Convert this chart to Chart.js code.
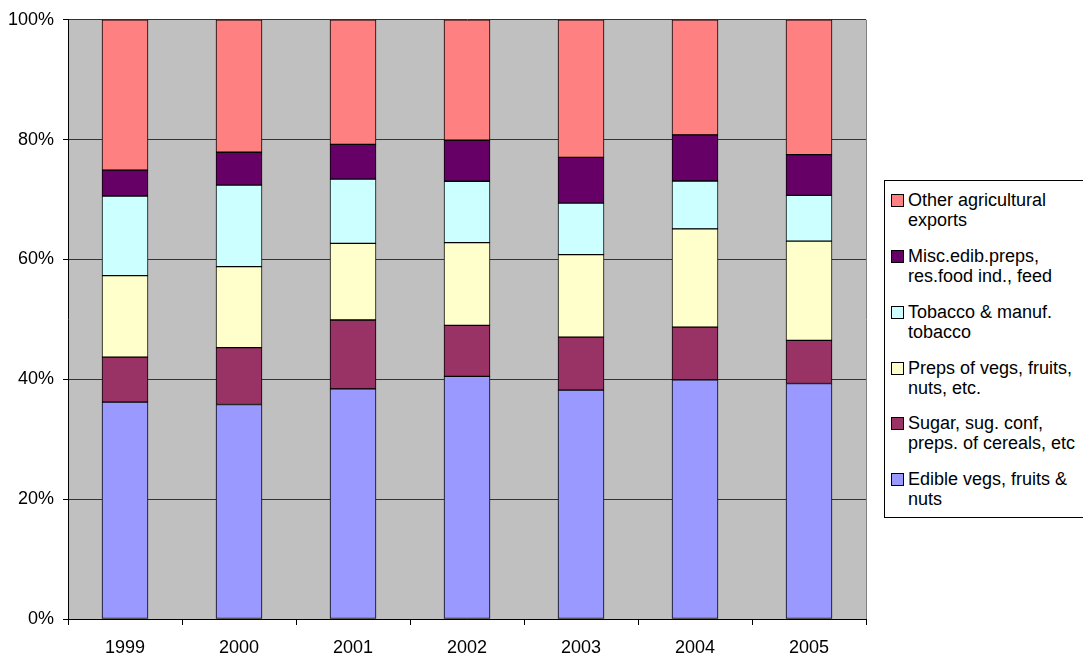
<!DOCTYPE html>
<html>
<head>
<meta charset="utf-8">
<script src="https://cdn.jsdelivr.net/npm/chart.js@4.4.1/dist/chart.umd.min.js"></script>
<style>
  html, body { margin: 0; padding: 0; background: #fff; }
  #wrap { position: relative; width: 1083px; height: 657px; }
  #legend { position: absolute; left: 884px; top: 180px; width: 199px; height: 338px;
    border: 1px solid #000; border-right: none; background: #fff; box-sizing: border-box;
    font-family: "Liberation Sans", Arial, sans-serif; font-size: 18px; color: #000; }
  .item { position: absolute; left: 6px; line-height: 20px; }
  .sw { position: absolute; left: 0; top: 4px; width: 11px; height: 11px; border: 1px solid #000; }
  .txt { margin-left: 17px; white-space: nowrap; }
</style>
</head>
<body>
<div id="wrap">
  <canvas id="c" width="1083" height="657"></canvas>
  <div id="legend"></div>
</div>
<script>
const categories = ["1999", "2000", "2001", "2002", "2003", "2004", "2005"];
const edible  = [36.2, 35.8, 38.4, 40.5, 38.2, 39.9, 39.3];
const sugar   = [7.5, 9.5, 11.5, 8.5, 8.85, 8.8, 7.2];
const preps   = [13.6, 13.5, 12.8, 13.8, 13.75, 16.4, 16.55];
const tobacco = [13.3, 13.6, 10.7, 10.25, 8.6, 8.0, 7.65];
const misc    = [4.3, 5.5, 5.8, 6.85, 7.65, 7.7, 6.8];
const other   = [25.1, 22.1, 20.8, 20.1, 22.95, 19.2, 22.5];
const yTicks  = [0, 20, 40, 60, 80, 100];

const series = [
  { label: ["Edible vegs, fruits &", "nuts"], data: edible, color: "#9999FF" },
  { label: ["Sugar, sug. conf,", "preps. of cereals, etc"], data: sugar, color: "#993366" },
  { label: ["Preps of vegs, fruits,", "nuts, etc."], data: preps, color: "#FFFFCC" },
  { label: ["Tobacco & manuf.", "tobacco"], data: tobacco, color: "#CCFFFF" },
  { label: ["Misc.edib.preps,", "res.food ind., feed"], data: misc, color: "#660066" },
  { label: ["Other agricultural", "exports"], data: other, color: "#FF8080" }
];

const bgPlugin = {
  id: 'bg',
  beforeDraw(chart) {
    const { ctx, chartArea: a } = chart;
    ctx.save();
    ctx.fillStyle = '#C0C0C0';
    ctx.fillRect(a.left, a.top, a.right - a.left, a.bottom - a.top);
    ctx.strokeStyle = '#808080';
    ctx.lineWidth = 1;
    ctx.beginPath();
    ctx.moveTo(a.right + 0.5, a.top);
    ctx.lineTo(a.right + 0.5, a.bottom);
    ctx.stroke();
    ctx.restore();
  }
};

const font = { family: '"Liberation Sans", Arial, sans-serif', size: 18 };

new Chart(document.getElementById('c'), {
  type: 'bar',
  data: {
    labels: categories,
    datasets: series.map(s => ({
      label: s.label.join(' '),
      data: s.data,
      backgroundColor: s.color,
      borderColor: '#000',
      borderWidth: 1,
      borderSkipped: false,
      barThickness: 46
    }))
  },
  options: {
    responsive: false,
    animation: false,
    layout: { autoPadding: false, padding: { top: 19, right: 217, left: 0, bottom: 0 } },
    plugins: { legend: { display: false }, tooltip: { enabled: false } },
    scales: {
      x: {
        stacked: true,
        offset: true,
        grid: { offset: true, drawOnChartArea: false, color: '#000', tickLength: 6, tickColor: '#000' },
        border: { color: '#000', width: 1 },
        ticks: { color: '#000', font: font, padding: 12 },
        afterFit(scale) { scale.height = 38; }
      },
      y: {
        stacked: true,
        min: 0, max: 100,
        afterBuildTicks(scale) { scale.ticks = yTicks.map(v => ({ value: v })); },
        grid: { color: '#333', tickLength: 5, tickColor: '#000' },
        border: { color: '#000', width: 1 },
        ticks: { color: '#000', font: font, padding: 9, callback: v => v + '%' },
        afterFit(scale) { scale.width = 68; }
      }
    }
  },
  plugins: [bgPlugin]
});

// HTML legend (top-to-bottom reversed order, as in the reference)
const leg = document.getElementById('legend');
const tops = [9, 65, 121, 177, 232, 288];
series.slice().reverse().forEach((s, i) => {
  const d = document.createElement('div');
  d.className = 'item';
  d.style.top = tops[i] + 'px';
  d.innerHTML = '<div class="sw" style="background:' + s.color + '"></div><div class="txt">' +
    s.label.map(t => t.replace(/&/g, '&amp;')).join('<br>') + '</div>';
  leg.appendChild(d);
});
</script>
</body>
</html>
